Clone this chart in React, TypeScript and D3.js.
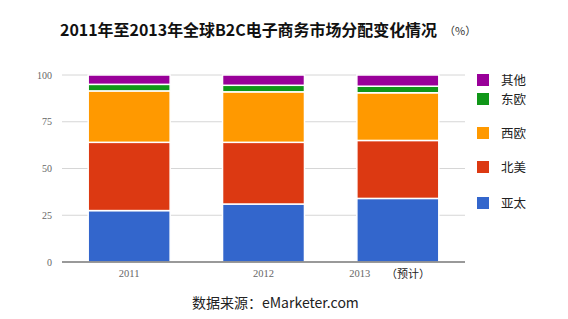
import React from "react";
import * as d3 from "d3";

const years = ["2011", "2012", "2013"];
const seriesNames = ["亚太", "北美", "西欧", "东欧", "其他"];
const asiaPacific = [27.5, 31, 34];
const northAmerica = [36.5, 33, 31];
const westernEurope = [27.5, 27, 25.5];
const easternEurope = [3.5, 3.5, 3.5];
const others = [5, 5.5, 6];
const yTicks = [0, 25, 50, 75, 100];
const colors = ["#3366cc", "#dc3912", "#ff9900", "#109618", "#990099"];

const W = 568;
const H = 319;
const plotLeft = 62;
const plotRight = 465;
const plotTop = 75;
const plotBottom = 262;

export default function App() {
  const seriesValues = [asiaPacific, northAmerica, westernEurope, easternEurope, others];
  const rows = years.map((y, i) => {
    const r: any = { year: y };
    seriesNames.forEach((s, k) => (r[s] = seriesValues[k][i]));
    return r;
  });
  const stacked = d3.stack<any>().keys(seriesNames)(rows);
  const x = d3.scaleBand().domain(years).range([plotLeft, plotRight]).paddingInner(0.39).paddingOuter(0.195);
  const y = d3.scaleLinear().domain([0, 100]).range([plotBottom, plotTop]);

  const legendRows = [
    { name: "其他", color: colors[4], y: 80 },
    { name: "东欧", color: colors[3], y: 99 },
    { name: "西欧", color: colors[2], y: 133 },
    { name: "北美", color: colors[1], y: 167 },
    { name: "亚太", color: colors[0], y: 203 },
  ];

  const xLabelOffset: Record<string, number> = { "2011": 0, "2012": 0, "2013": -38 };

  return (
    <svg width={W} height={H} style={{ position: "absolute", left: 0, top: 0, background: "#fff" }}>
      <rect width={W} height={H} fill="#fff" />
      <text
        x={60}
        y={36}
        fontFamily="'Noto Sans CJK SC', sans-serif"
        fontWeight="bold"
        fontSize={16}
        fill="#111"
        textLength={377}
        lengthAdjust="spacingAndGlyphs"
      >
        2011年至2013年全球B2C电子商务市场分配变化情况
      </text>
      <text x={444} y={35} fontFamily="'Noto Sans CJK SC', sans-serif" fontSize={11} fill="#333">
        （%）
      </text>
      {yTicks.map((t) => (
        <g key={t}>
          {t !== 0 && (
            <line x1={plotLeft} x2={plotRight} y1={y(t)} y2={y(t)} stroke="#d6d6d6" strokeWidth={1} />
          )}
          <text x={52} y={y(t) + 3.5} textAnchor="end" fontFamily="'Liberation Serif', serif" fontSize={10} fill="#666">
            {t}
          </text>
        </g>
      ))}
      {stacked.map((layer, k) => (
        <g key={layer.key} fill={colors[k]}>
          {layer.map((d: any, i: number) => (
            <rect
              key={i}
              x={x(years[i])}
              width={x.bandwidth()}
              y={y(d[1])}
              height={y(d[0]) - y(d[1])}
              stroke="#fff"
              strokeWidth={1.5}
            />
          ))}
        </g>
      ))}
      <line x1={plotLeft} x2={plotRight} y1={plotBottom} y2={plotBottom} stroke="#777" strokeWidth={1.5} />
      {years.map((yr) => (
        <text
          key={yr}
          x={(x(yr) as number) + x.bandwidth() / 2 + xLabelOffset[yr]}
          y={277}
          textAnchor="middle"
          fontFamily="'Liberation Serif', serif"
          fontSize={10.5}
          fill="#666"
        >
          {yr}
        </text>
      ))}
      <text x={386} y={278} fontFamily="'Noto Sans CJK SC', sans-serif" fontSize={11} fill="#222">
        （预计）
      </text>
      {legendRows.map((l) => (
        <g key={l.name}>
          <rect x={477} y={l.y - 6} width={12} height={12} fill={l.color} />
          <text x={501} y={l.y + 4.5} fontFamily="'Noto Sans CJK SC', sans-serif" fontSize={12.5} fill="#222">
            {l.name}
          </text>
        </g>
      ))}
      <text x={192} y={308} fontFamily="'Noto Sans CJK SC', sans-serif" fontSize={14} fill="#222">
        数据来源：eMarketer.com
      </text>
    </svg>
  );
}
